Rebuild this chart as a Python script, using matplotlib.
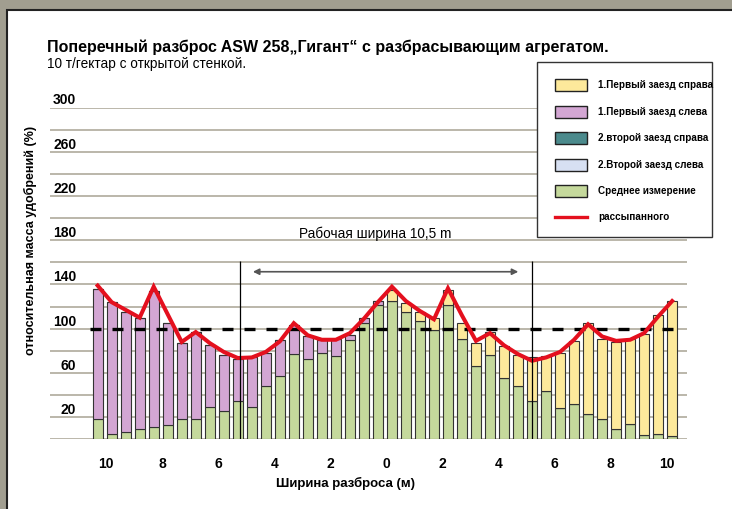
import numpy as np
import matplotlib
matplotlib.use('Agg')
import matplotlib.pyplot as plt
from matplotlib.patches import Rectangle
from matplotlib.lines import Line2D

plt.rcParams['font.family'] = ['Liberation Sans', 'DejaVu Sans']

# данные (42 полосы по 0,5 м)
green = [18, 5, 7, 9, 11, 13, 18, 18, 29, 26, 35, 29, 48, 57, 77, 73, 78, 75, 90, 105, 121,
         125, 115, 107, 99, 121, 91, 66, 76, 55, 48, 35, 44, 28, 32, 23, 18, 9, 14, 4, 5, 3]
purple = [118, 119, 108, 101, 123, 92, 69, 79, 56, 50, 38, 45, 30, 33, 26, 20, 12, 16, 4, 5, 4] + [0] * 21
yellow = [0] * 21 + [10, 8, 8, 11, 14, 14, 21, 21, 29, 28, 39, 31, 50, 57, 82, 73, 79, 77, 91, 107, 122]
red = [139, 124, 117, 110, 138, 113, 88, 97, 87, 79, 73.5, 74, 79, 88.5, 105, 94, 90, 90, 96, 109, 124,
       138, 125, 116, 108.5, 136.5, 112, 89, 96, 85, 77, 71, 74, 79, 90, 104, 93, 89, 90, 96, 111, 125]
x_ticks = [-10, -8, -6, -4, -2, 0, 2, 4, 6, 8, 10]
x_labels = ['10', '8', '6', '4', '2', '0', '2', '4', '6', '8', '10']
y_labels = [20, 60, 100, 140, 180, 220, 260, 300]
legend_labels = ['1.Первый заезд справа', '1.Первый заезд слева', '2.второй заезд справа',
                 '2.Второй заезд слева', 'Среднее измерение', 'рассыпанного']

x = (np.arange(len(green)) - 20.6) * 0.5
bottom2 = np.array(green) + np.array(purple)

c_yellow = '#fde99b'
c_purple = '#d3a6d3'
c_teal = '#4b8a8c'
c_blue = '#d7e0f2'
c_green = '#c5d99c'
c_red = '#e4101e'


def fx(px):
    return px / 732


def fy(py):
    return 1 - py / 509


fig = plt.figure(figsize=(7.32, 5.09), dpi=100)
fig.patch.set_facecolor('#a19e90')
# белая панель с рамкой
panel = Rectangle((fx(6.5), -0.01), 1.02, fy(9.5) + 0.01, transform=fig.transFigure,
                  facecolor='white', edgecolor='#222222', linewidth=1.5, zorder=-10)
fig.patches.append(panel)

ax = fig.add_axes([fx(50), fy(439.3), fx(637), 331.8 / 509])
ax.set_facecolor('none')
ax.set_xlim(-12.0, 10.73)
ax.set_ylim(0, 300)

for v in range(0, 301, 20):
    ax.axhline(v, color='#b5b1a4', lw=1.3, zorder=1)

ax.bar(x, green, width=0.35, color=c_green, edgecolor='#333333', lw=0.8, zorder=3)
ax.bar(x, purple, width=0.35, bottom=green, color=c_purple, edgecolor='#333333', lw=0.8, zorder=3)
ax.bar(x, yellow, width=0.35, bottom=bottom2, color=c_yellow, edgecolor='#333333', lw=0.8, zorder=3)

ax.plot([-10.56, 10.37], [100, 100], color='black', lw=2.4, dashes=(3.3, 3.3), zorder=4)
ax.plot(x, red, color=c_red, lw=2.9, zorder=5, solid_joinstyle='miter')

# рабочая ширина
ax.vlines([-5.21, 5.19], 0, 161, color='black', lw=0.9, zorder=6)
ax.annotate('', xy=(-4.76, 151.5), xytext=(4.71, 151.5),
            arrowprops=dict(arrowstyle='<|-|>', color='#555555', lw=1.2, mutation_scale=9,
                            shrinkA=0, shrinkB=0))
ax.text(-0.41, 186, 'Рабочая ширина 10,5 m', ha='center', va='center', fontsize=9.8)

ax.set_xticks(x_ticks)
ax.set_xticklabels(x_labels, fontsize=10, fontweight='bold')
ax.tick_params(axis='x', length=0, pad=13)
ax.set_yticks([])
for s in ax.spines.values():
    s.set_visible(False)

for v in y_labels:
    ax.text(-11.06, v + 6.5, str(v), ha='right', va='center', fontsize=10, fontweight='bold')

fig.text(fx(345), fy(483), 'Ширина разброса (м)', ha='center', va='center', fontsize=9.5, fontweight='bold')
fig.text(fx(30), fy(240), 'относительная масса удобрений (%)', rotation=90,
         ha='center', va='center', fontsize=9, fontweight='bold')

fig.text(fx(47), fy(47), 'Поперечный разброс ASW 258„Гигант“ с разбрасывающим агрегатом.',
         ha='left', va='center', fontsize=11.5, fontweight='bold')
fig.text(fx(47), fy(64), '10 т/гектар с открытой стенкой.', ha='left', va='center', fontsize=9.8)

# легенда
fig.patches.append(Rectangle((fx(537), fy(237)), fx(175), 175 / 509, transform=fig.transFigure,
                             facecolor='white', edgecolor='#333333', linewidth=1.0, zorder=8))
rows = [85, 112, 138, 165, 191, 217]
fills = [c_yellow, c_purple, c_teal, c_blue, c_green]
for i, (row, lab) in enumerate(zip(rows, legend_labels)):
    if i < len(fills):
        fig.patches.append(Rectangle((fx(555), fy(row + 6)), fx(32), 12 / 509, transform=fig.transFigure,
                                     facecolor=fills[i], edgecolor='#222222', linewidth=1.0, zorder=9))
    else:
        fig.lines.append(Line2D([fx(555), fx(587)], [fy(row), fy(row)], transform=fig.transFigure,
                                color=c_red, lw=2.4, zorder=9))
    fig.text(fx(598), fy(row), lab, ha='left', va='center', fontsize=7.1, fontweight='bold', zorder=10)

fig.savefig('out.png', dpi=100, facecolor=fig.get_facecolor())
